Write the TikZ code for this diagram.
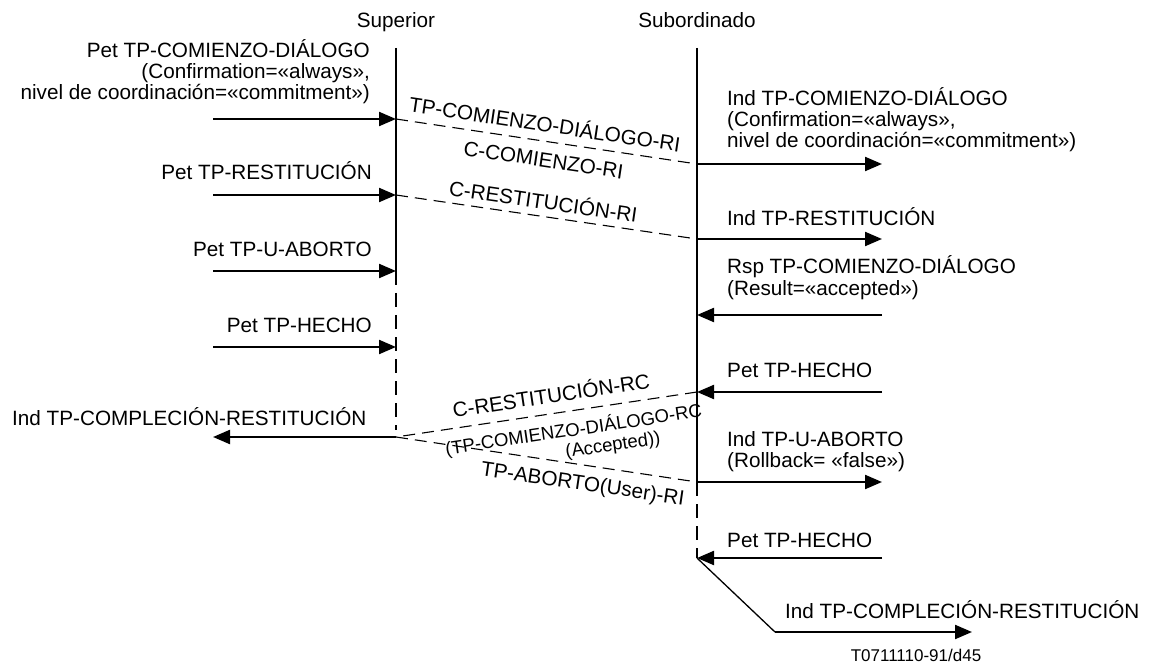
\documentclass[tikz,border=0pt]{standalone}
\usepackage{fontspec}
\setmainfont{Liberation Sans}
\usetikzlibrary{arrows.meta}
\begin{document}
\begin{tikzpicture}[x=1pt,y=-1pt,
  lbl/.style={font=\fontsize{20.7}{21}\selectfont, inner sep=0pt},
  smalllbl/.style={font=\fontsize{18.5}{19}\selectfont, inner sep=0pt},
  reflbl/.style={font=\fontsize{17}{18}\selectfont, inner sep=0pt},
  life/.style={line width=2pt},
  lifedash/.style={line width=2pt, dash pattern=on 14pt off 8pt},
  msg/.style={line width=2.2pt, -{Triangle[length=17pt,width=14pt]}},
  pdu/.style={line width=1.1pt, dash pattern=on 12pt off 7pt},
  thinline/.style={line width=1.3pt}]
\useasboundingbox (0,0) rectangle (1152,663);

% lifeline headers
\node[lbl,anchor=base] (sup) at (396,28) {Superior};
\node[lbl,anchor=base] (sub) at (697,28) {Subordinado};

% points on the Superior lifeline
\coordinate (S0) at (396,48);
\coordinate (S1) at (396,119);
\coordinate (S2) at (396,195);
\coordinate (S3) at (396,271);
\coordinate (S4) at (396,347);
\coordinate (S5) at (396,437);
\coordinate (Send) at (396,430);
% points on the Subordinado lifeline
\coordinate (R0) at (697,48);
\coordinate (R1) at (697,164);
\coordinate (R2) at (697,239);
\coordinate (R3) at (697,315);
\coordinate (R4) at (697,392);
\coordinate (R5) at (697,482);
\coordinate (R6) at (697,558);
% free ends of the primitive arrows
\coordinate (L1) at (213,119);
\coordinate (L2) at (213,195);
\coordinate (L3) at (213,271);
\coordinate (L4) at (213,347);
\coordinate (L5) at (213,437);
\coordinate (E1) at (882,164);
\coordinate (E2) at (882,239);
\coordinate (E3) at (882,315);
\coordinate (E4) at (882,392);
\coordinate (E5) at (882,482);
\coordinate (E6) at (882,558);
\coordinate (D)  at (775,632);
\coordinate (E7) at (972,632);

% lifelines
\draw[life] (S0) -- (S3);
\draw[lifedash] (S3) -- (Send);
\draw[life] (R0) -- (R5);
\draw[lifedash] (R5) -- (R6);

% Superior side primitives
\draw[msg] (L1) -- (S1);
\draw[msg] (L2) -- (S2);
\draw[msg] (L3) -- (S3);
\draw[msg] (L4) -- (S4);
\draw[msg] (S5) -- (L5);

% Subordinado side primitives
\draw[msg] (R1) -- (E1);
\draw[msg] (R2) -- (E2);
\draw[msg] (E3) -- (R3);
\draw[msg] (E4) -- (R4);
\draw[msg] (R5) -- (E5);
\draw[msg] (E6) -- (R6);
\draw[thinline] (R6) -- (D);
\draw[msg] (D) -- (E7);

% protocol data units
\draw[pdu] (S1) -- (R1);
\draw[pdu] (S2) -- (R2);
\draw[pdu] (R4) -- (S5);
\draw[pdu] (S5) -- (R5);

% PDU labels
\node[lbl,rotate=-8.5] (pa1) at (545,123) {TP-COMIENZO-DIÁLOGO-RI};
\node[lbl,rotate=-8.5] (pa2) at (543.5,160) {C-COMIENZO-RI};
\node[lbl,rotate=-8.3] (pb1) at (543.5,200) {C-RESTITUCIÓN-RI};
\node[lbl,rotate=8.5] (pc1) at (551,394) {C-RESTITUCIÓN-RC};
\node[smalllbl,rotate=8.5] (pc2) at (573.5,430) {(TP-COMIENZO-DIÁLOGO-RC};
\node[smalllbl,rotate=8.5] (pc3) at (613,446) {(Accepted))};
\node[lbl,rotate=-8.3] (pd1) at (582.5,485) {TP-ABORTO(User)-RI};

% Superior side labels (a multi-line node's base is its last line)
\node[lbl,anchor=base east,align=right] (u1) at (370,100)
  {Pet TP-COMIENZO-DIÁLOGO\\(Confirmation=«always»,\\nivel de coordinación=«commitment»)};
\node[lbl,anchor=base east] (u2) at (372,180) {Pet TP-RESTITUCIÓN};
\node[lbl,anchor=base east] (u3) at (372,257) {Pet TP-U-ABORTO};
\node[lbl,anchor=base east] (u4) at (372,332) {Pet TP-HECHO};
\node[lbl,anchor=base west] (u5) at (12,425) {Ind TP-COMPLECIÓN-RESTITUCIÓN};

% Subordinado side labels
\node[lbl,anchor=base west,align=left] (t1) at (727,148)
  {Ind TP-COMIENZO-DIÁLOGO\\(Confirmation=«always»,\\nivel de coordinación=«commitment»)};
\node[lbl,anchor=base west] (t2) at (727,226) {Ind TP-RESTITUCIÓN};
\node[lbl,anchor=base west,align=left] (t3) at (727,295)
  {Rsp TP-COMIENZO-DIÁLOGO\\(Result=«accepted»)};
\node[lbl,anchor=base west] (t4) at (727,377) {Pet TP-HECHO};
\node[lbl,anchor=base west,align=left] (t5) at (727,467)
  {Ind TP-U-ABORTO\\(Rollback= «false»)};
\node[lbl,anchor=base west] (t6) at (727,547) {Pet TP-HECHO};
\node[lbl,anchor=base west] (t7) at (785,618) {Ind TP-COMPLECIÓN-RESTITUCIÓN};

% figure reference
\node[reflbl,anchor=base] (ref) at (916,661) {T0711110-91/d45};
\end{tikzpicture}
\end{document}
